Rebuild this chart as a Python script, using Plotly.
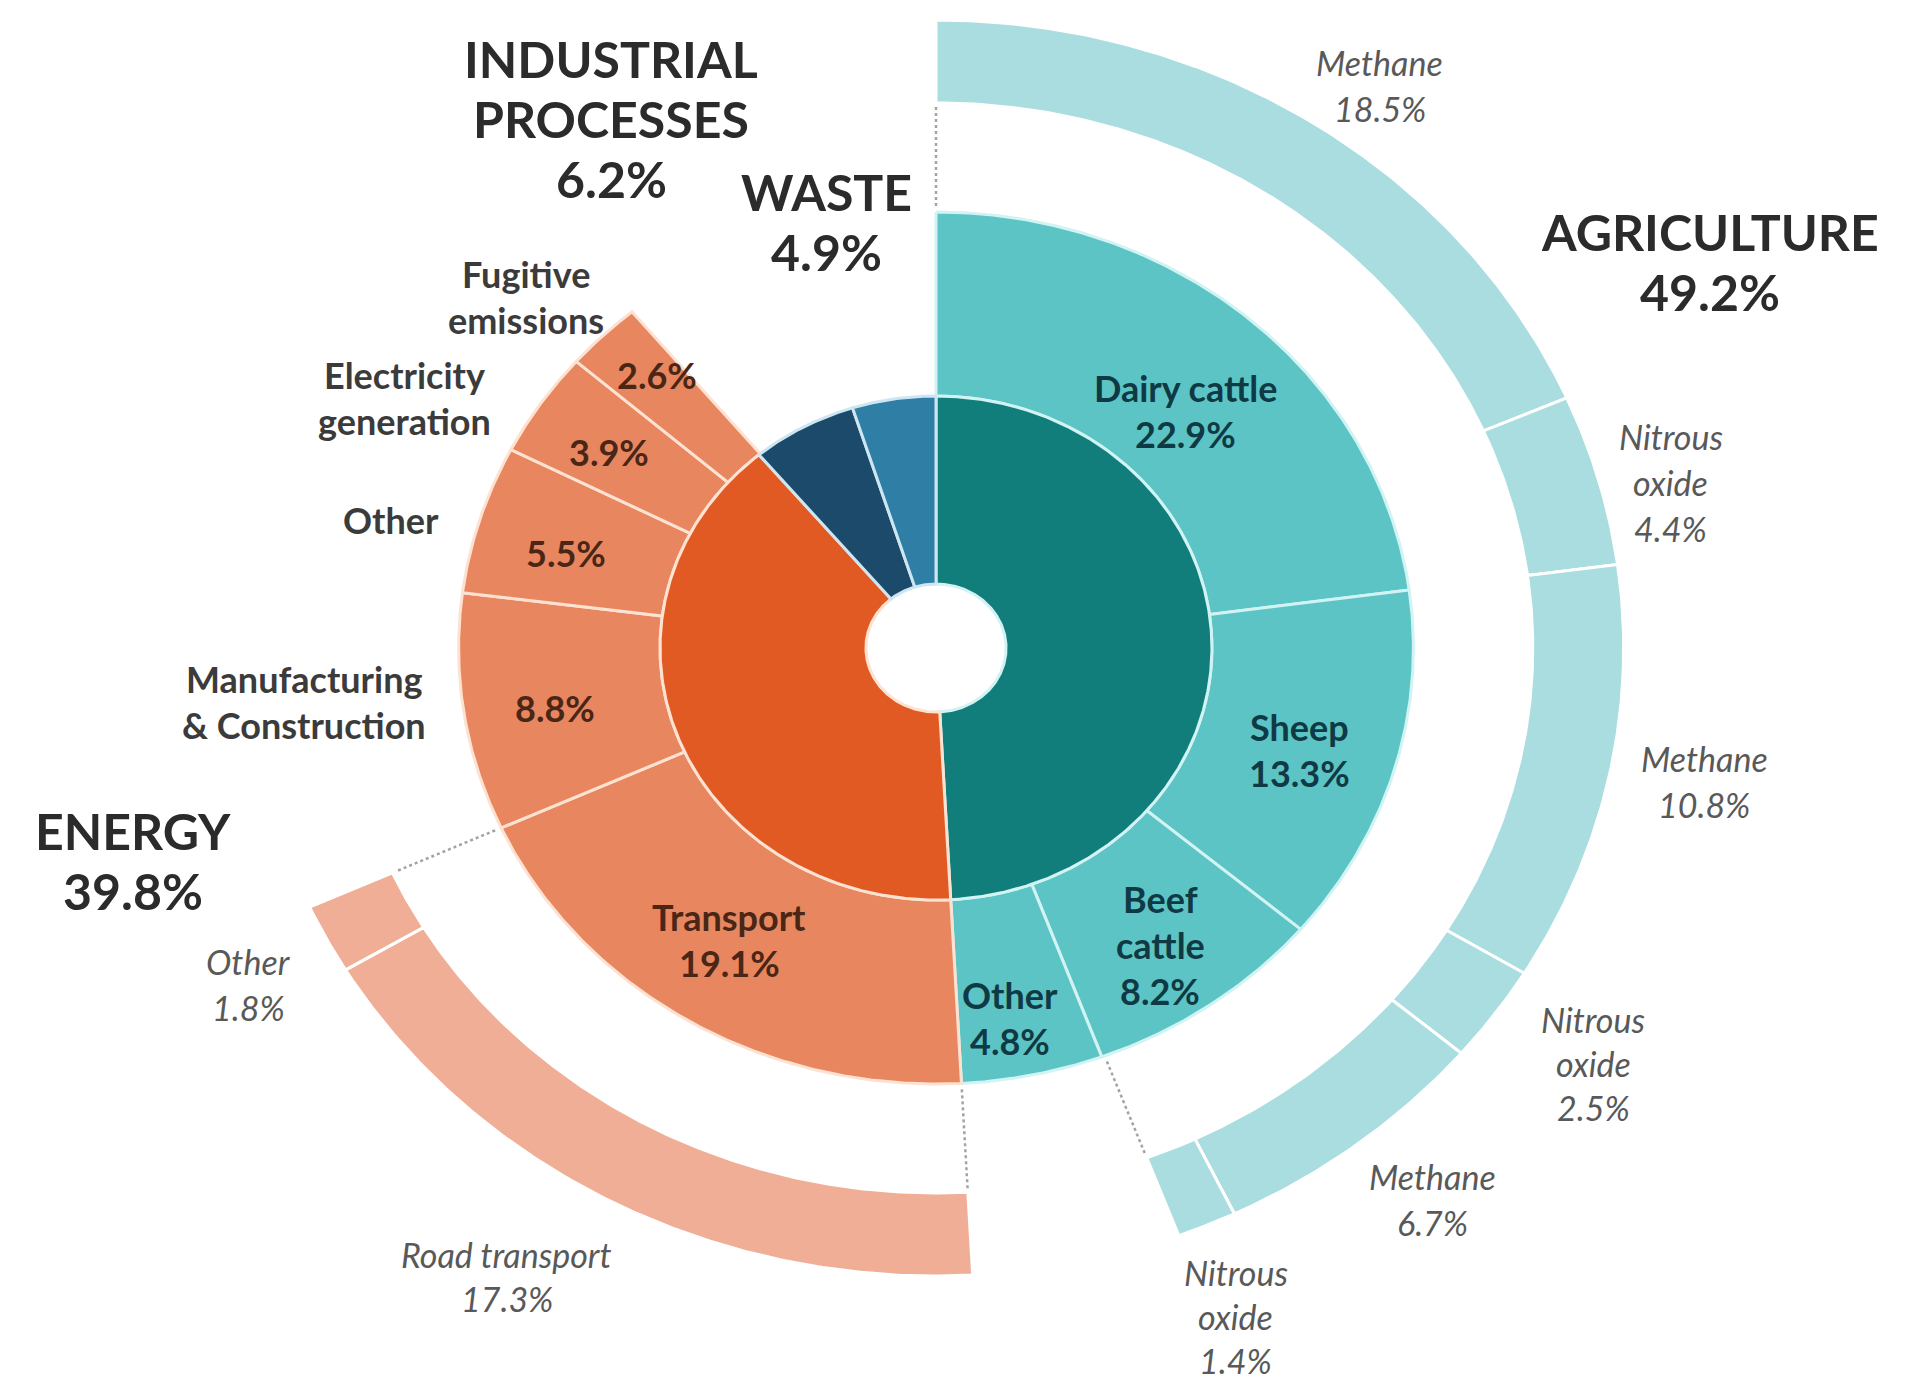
import numpy as np
import plotly.graph_objects as go

# ---------------- data: share of gross emissions (%) ----------------
sectors = ["Agriculture", "Energy", "Industrial processes", "Waste"]
sector_share = [49.2, 39.8, 6.2, 4.9]
sector_titles = ["AGRICULTURE", "ENERGY", "INDUSTRIAL<br>PROCESSES", "WASTE"]

sub_names = ["Dairy cattle", "Sheep", "Beef cattle", "Other",
             "Transport", "Manufacturing & Construction", "Other",
             "Electricity generation", "Fugitive emissions"]
sub_parent = ["Agriculture"] * 4 + ["Energy"] * 5
sub_share = [22.9, 13.3, 8.2, 4.8, 19.1, 8.8, 5.5, 3.9, 2.6]

gas_names = ["Methane", "Nitrous oxide", "Methane", "Nitrous oxide",
             "Methane", "Nitrous oxide", "Road transport", "Other"]
gas_parent = ["Dairy cattle", "Dairy cattle", "Sheep", "Sheep",
              "Beef cattle", "Beef cattle", "Transport", "Transport"]
gas_share = [18.5, 4.4, 10.8, 2.5, 6.7, 1.4, 17.3, 1.8]

# ---------------- geometry & style ----------------
W, H = 1905, 1388
CX, CY = 936, 648          # centre of the rings in page pixels
XSTRETCH = 1.095           # horizontal pixels per data unit (rings drawn as ellipses)
R_HOLE, R_SECTOR, R_SUB = 64, 252, 436
R_GAS_IN, R_GAS_OUT = 545, 628

sector_fill = {"Agriculture": "#127e7c", "Energy": "#e15a23",
               "Industrial processes": "#1b4a6b", "Waste": "#2f7ea6"}
sub_fill = {"Agriculture": "#5cc4c4", "Energy": "#e8865f"}
gas_fill = {"Agriculture": "#a9dde0", "Energy": "#f0ae96"}
edge = {"Agriculture": "#d2f3f3", "Energy": "#fde2d2",
        "Industrial processes": "#cde6f2", "Waste": "#cde6f2"}

FONT = "Lato"
C_TITLE = "#2b2b2b"
C_TEAL_TXT = "#0f3a44"
C_ORANGE_TXT = "#4a2616"
C_NAME_TXT = "#3b3b3b"
C_GAS_TXT = "#595959"
LINE_GAP = 46
SIZE_TITLE, SIZE_SUB, SIZE_GAS = 50, 36, 34

# label placement: (radius, angular nudge in degrees) relative to segment mid-angle
sub_inside = {0: (329, 2.7), 1: (347, 0.8), 2: (361, 0.5), 3: (376, 1.3),
              4: (348, 1.6), 5: (353, -1.3), 6: (351, -1.5), 7: (357, -0.8),
              8: (374, 1.2)}
sub_outside = {5: (580, 3.2), 6: (514, -2.8), 7: (546, -6.8), 8: (513, -2.6)}
gas_place = {0: (693, 2.5), 1: (691, 1.7), 2: (714, -1.0), 3: (730, -1.0),
             4: (714, -1.7), 5: (722, 0.9), 6: (741, 3.9), 7: (712, -0.6)}
line_breaks = {"Beef cattle": ["Beef", "cattle"],
               "Fugitive emissions": ["Fugitive", "emissions"],
               "Electricity generation": ["Electricity", "generation"],
               "Manufacturing & Construction": ["Manufacturing", "& Construction"],
               "Nitrous oxide": ["Nitrous", "oxide"]}
# sector title blocks: centre in page pixels
title_px = {"Agriculture": (1710, 262), "Energy": (133, 861),
            "Industrial processes": (611, 119), "Waste": (826, 222)}


def polar_xy(r, deg):
    t = np.deg2rad(deg)
    return r * np.sin(t), r * np.cos(t)


def wedge(a0, a1, r0, r1, step=0.4):
    n = max(int(abs(a1 - a0) / step), 2)
    t = np.linspace(a0, a1, n)
    xo, yo = polar_xy(r1, t)
    xi, yi = polar_xy(r0, t[::-1])
    return np.concatenate([xo, xi, xo[:1]]), np.concatenate([yo, yi, yo[:1]])


def pct(v):
    return f"{v:.1f}%"


# ---------------- angular layout (clockwise from 12 o'clock) ----------------
deg_per_pct = 360.0 / sum(sector_share)

sec_start = {}
acc = 0.0
for name, v in zip(sectors, sector_share):
    sec_start[name] = acc
    acc += v

sub_start, sub_root = [], []
used = {}
for name, par, v in zip(sub_names, sub_parent, sub_share):
    s = sec_start[par] + used.get(par, 0.0)
    used[par] = used.get(par, 0.0) + v
    sub_start.append(s)
    sub_root.append(par)

sub_index = {}
for i, n in enumerate(sub_names):
    sub_index.setdefault(n, i)

gas_start, gas_root = [], []
used = {}
for name, par, v in zip(gas_names, gas_parent, gas_share):
    pi = sub_index[par]
    s = sub_start[pi] + used.get(par, 0.0)
    used[par] = used.get(par, 0.0) + v
    gas_start.append(s)
    gas_root.append(sub_root[pi])

fig = go.Figure()


def add_wedge(a0, a1, r0, r1, fill, line_col, label):
    x, y = wedge(a0 * deg_per_pct, a1 * deg_per_pct, r0, r1)
    fig.add_trace(go.Scatter(x=x, y=y, mode="lines", fill="toself",
                             fillcolor=fill, line=dict(color=line_col, width=3),
                             hoverinfo="text", hovertext=label, hoveron="fills"))


# outer ring: gases / transport split
for name, s, v, root in zip(gas_names, gas_start, gas_share, gas_root):
    add_wedge(s, s + v, R_GAS_IN, R_GAS_OUT, gas_fill[root], "#ffffff",
              f"{name} {pct(v)}")

# middle ring: sub-sectors
for name, s, v, root in zip(sub_names, sub_start, sub_share, sub_root):
    add_wedge(s, s + v, R_SECTOR, R_SUB, sub_fill[root], edge[root],
              f"{name} {pct(v)}")

# inner ring: sectors
for name, v in zip(sectors, sector_share):
    s = sec_start[name]
    add_wedge(s, s + v, R_HOLE, R_SECTOR, sector_fill[name], edge[name],
              f"{name} {pct(v)}")

# dotted leaders at the ends of each continuous run of the outer ring
runs = []
for s, v in sorted(zip(gas_start, gas_share)):
    if runs and abs(s - runs[-1][1]) < 0.15:
        runs[-1][1] = s + v
    else:
        runs.append([s, s + v])
for a0, a1 in runs:
    for a in (a0, a1):
        x, y = polar_xy(np.array([R_SUB + 6, R_GAS_IN - 4]), a * deg_per_pct)
        fig.add_trace(go.Scatter(x=x, y=y, mode="lines", hoverinfo="skip",
                                 line=dict(color="#a3a3a3", width=2.5, dash="dot")))


def add_block(lines, x, y, size, color, weight=400, style="normal", gap=LINE_GAP):
    n = len(lines)
    for i, s in enumerate(lines):
        fig.add_annotation(x=x, y=y + gap * ((n - 1) / 2 - i), text=s,
                           showarrow=False, xanchor="center", yanchor="middle",
                           font=dict(family=FONT, size=size, color=color,
                                     weight=weight, style=style))


def px_to_data(px, py):
    return (px - CX) / XSTRETCH, CY - py


# sector titles
for name, title, v in zip(sectors, sector_titles, sector_share):
    x, y = px_to_data(*title_px[name])
    add_block(title.split("<br>") + [pct(v)], x, y, SIZE_TITLE, C_TITLE,
              weight=700, gap=60)

# sub-sector labels
for i, (name, s, v, root) in enumerate(zip(sub_names, sub_start, sub_share, sub_root)):
    mid = (s + v / 2) * deg_per_pct
    name_lines = line_breaks.get(name, [name])
    inside_col = C_TEAL_TXT if root == "Agriculture" else C_ORANGE_TXT
    if i in sub_outside:
        r, d = sub_outside[i]
        x, y = polar_xy(r, mid + d)
        add_block(name_lines, x, y, SIZE_SUB, C_NAME_TXT, weight=700)
        inside = [pct(v)]
    else:
        inside = name_lines + [pct(v)]
    r, d = sub_inside[i]
    x, y = polar_xy(r, mid + d)
    add_block(inside, x, y, SIZE_SUB, inside_col, weight=700)

# outer-ring labels
for i, (name, s, v) in enumerate(zip(gas_names, gas_start, gas_share)):
    mid = (s + v / 2) * deg_per_pct
    r, d = gas_place[i]
    x, y = polar_xy(r, mid + d)
    gap = 44 if r > 720 else LINE_GAP
    add_block(line_breaks.get(name, [name]) + [pct(v)], x, y, SIZE_GAS, C_GAS_TXT,
              style="italic", gap=gap)

fig.update_layout(
    width=W, height=H, autosize=False,
    margin=dict(l=0, r=0, t=0, b=0, pad=0),
    paper_bgcolor="white", plot_bgcolor="white",
    showlegend=False,
    xaxis=dict(range=[(0 - CX) / XSTRETCH, (W - CX) / XSTRETCH], visible=False,
               fixedrange=True),
    yaxis=dict(range=[CY - H, CY], visible=False, fixedrange=True),
)

fig.write_html("out.html", config={"displayModeBar": False})
